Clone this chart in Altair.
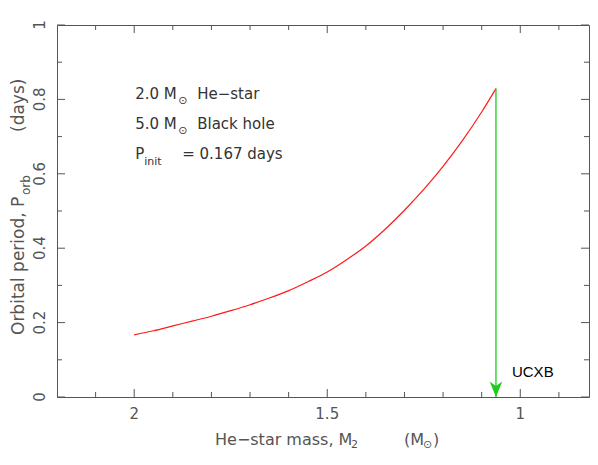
import altair as alt
import pandas as pd

# ---- data ----
mass = [2.0, 1.95, 1.9, 1.85, 1.8, 1.75, 1.7, 1.65, 1.6, 1.55, 1.5, 1.45, 1.4, 1.35,
        1.3, 1.25, 1.2, 1.15, 1.1, 1.063]
period = [0.167, 0.178, 0.191, 0.204, 0.217, 0.232, 0.248, 0.266, 0.286, 0.310, 0.336,
          0.369, 0.406, 0.451, 0.502, 0.558, 0.620, 0.689, 0.766, 0.829]

x_major = [2.0, 1.5, 1.0]
x_labels = ["2", "1.5", "1"]
x_minor = [2.1, 1.9, 1.8, 1.7, 1.6, 1.4, 1.3, 1.2, 1.1, 0.9]
y_major = [0.0, 0.2, 0.4, 0.6, 0.8, 1.0]
y_labels = ["0", "0.2", "0.4", "0.6", "0.8", "1"]
y_minor = [0.1, 0.3, 0.5, 0.7, 0.9]

ann_lines = [0.80, 0.72, 0.64]
ucxb_y = 0.054

W, H = 532, 372
AX = "#555555"
FONT = "DejaVu Sans"

xs = alt.Scale(domain=[0.822, 2.2], reverse=True, nice=False, zero=False)
ys = alt.Scale(domain=[0, 1], nice=False, zero=False)

def X(f):
    return alt.X(f, scale=xs, axis=None)

def Y(f):
    return alt.Y(f, scale=ys, axis=None)

curve_df = pd.DataFrame({"m": mass, "p": period})
curve = alt.Chart(curve_df).mark_line(
    color="#ff1a1a", strokeWidth=1.2, interpolate="monotone"
).encode(x=X("m:Q"), y=Y("p:Q"))

layers = [curve]

# ---- frame ticks (inward), driven by tick value arrays ----
def xticks(vals, length):
    df = pd.DataFrame({"v": vals})
    b = alt.Chart(df).mark_rule(color=AX, strokeWidth=1).encode(
        x=X("v:Q"), y=alt.value(H), y2=alt.value(H - length))
    t = alt.Chart(df).mark_rule(color=AX, strokeWidth=1).encode(
        x=X("v:Q"), y=alt.value(0), y2=alt.value(length))
    return [b, t]

def yticks(vals, length):
    df = pd.DataFrame({"v": vals})
    l = alt.Chart(df).mark_rule(color=AX, strokeWidth=1).encode(
        y=Y("v:Q"), x=alt.value(0), x2=alt.value(length))
    r = alt.Chart(df).mark_rule(color=AX, strokeWidth=1).encode(
        y=Y("v:Q"), x=alt.value(W), x2=alt.value(W - length))
    return [l, r]

layers += xticks(x_major, 8) + xticks(x_minor, 5) + yticks(y_major, 8) + yticks(y_minor, 5)

# ---- tick labels ----
xl = alt.Chart(pd.DataFrame({"v": x_major, "t": x_labels})).mark_text(
    font=FONT, fontSize=15, color=AX, align="center", baseline="top"
).encode(x=X("v:Q"), y=alt.value(H + 10), text="t:N")
yl = alt.Chart(pd.DataFrame({"v": y_major, "t": y_labels})).mark_text(
    font=FONT, fontSize=15, color=AX, align="center", baseline="alphabetic", angle=270
).encode(y=Y("v:Q"), x=alt.value(-12), text="t:N")
layers += [xl, yl]

# ---- arrow from the end of the track down to the axis ----
end_df = pd.DataFrame({"m": [mass[-1]], "p": [period[-1]], "p0": [0.0]})
GREEN = "#1ecb1e"
arrow_line = alt.Chart(end_df).mark_rule(color=GREEN, strokeWidth=1.3).encode(
    x=X("m:Q"), y=Y("p:Q"), y2="p0:Q")
arrow_head = alt.Chart(end_df).mark_point(
    shape="M0,0 L-1.05,-2.6 L0,-1.85 L1.05,-2.6 Z", size=144, filled=True, color=GREEN, opacity=1
).encode(x=X("m:Q"), y=Y("p0:Q"))
ucxb = alt.Chart(pd.DataFrame({"m": [mass[-1]], "p": [ucxb_y], "t": ["UCXB"]})).mark_text(
    font="Liberation Sans", fontSize=15, color="black", align="left", baseline="alphabetic", dx=16
).encode(x=X("m:Q"), y=Y("p:Q"), text="t:N")
layers += [arrow_line, arrow_head, ucxb]

# ---- annotation block (anchored at M = 2.0) ----
ann_pieces = [
    (0, "2.0 M", 1, 0, 15), (0, "⊙", 44, 5, 11), (0, "He−star", 63, 0, 15),
    (1, "5.0 M", 1, 0, 15), (1, "⊙", 44, 5, 11), (1, "Black hole", 63, 0, 15),
    (2, "P", 1, 0, 15), (2, "init", 10, 6, 11), (2, "= 0.167 days", 48, 0, 15),
]
for line, txt, dx, dy, fs in ann_pieces:
    df = pd.DataFrame({"m": [mass[0]], "p": [ann_lines[line]], "t": [txt]})
    layers.append(alt.Chart(df).mark_text(
        font=FONT, fontSize=fs, color="#333333", align="left", baseline="alphabetic", dx=dx, dy=dy
    ).encode(x=X("m:Q"), y=Y("p:Q"), text="t:N"))

# ---- axis titles with sub-scripts (pixel layout relative to plot area) ----
title_pieces = [
    # text, x, y, size, angle
    ("He−star mass, M", 158, 420, 16, 0),
    ("2", 294, 423, 11, 0),
    ("(M", 347, 420, 16, 0),
    ("⊙", 366, 423, 11, 0),
    (")", 376, 420, 16, 0),
    ("Orbital period, P", -33, 310, 17, 270),
    ("orb", -27, 170, 12, 270),
    ("(days)", -33, 107, 17, 270),
]
for txt, px, py, fs, ang in title_pieces:
    df = pd.DataFrame({"t": [txt]})
    layers.append(alt.Chart(df).mark_text(
        font=FONT, fontSize=fs, color=AX, align="left", baseline="alphabetic", angle=ang
    ).encode(x=alt.value(px), y=alt.value(py), text="t:N"))

chart = alt.layer(*layers).properties(
    width=W, height=H,
    autosize=alt.AutoSizeParams(type="none"),
    padding={"left": 49, "top": 17, "right": 1, "bottom": 55},
).configure_view(stroke=AX, strokeWidth=1)

chart.save("out.html", embed_options={"renderer": "svg", "actions": False})
